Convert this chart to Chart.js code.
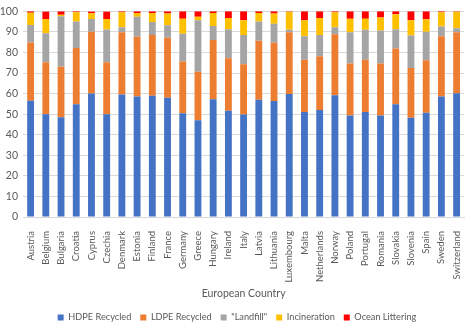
<!DOCTYPE html>
<html>
<head>
<meta charset="utf-8">
<script src="https://cdn.jsdelivr.net/npm/chart.js@4.4.1/dist/chart.umd.min.js"></script>
<style>
  html, body { margin: 0; padding: 0; background: #fff; }
  #wrap { width: 474px; height: 324px; }
</style>
</head>
<body>
<div id="wrap"><canvas id="c" width="474" height="324"></canvas></div>
<script>
const countries = ["Austria","Belgium","Bulgaria","Croatia","Cyprus","Czechia","Denmark","Estonia","Finland","France","Germany","Greece","Hungary","Ireland","Italy","Latvia","Lithuania","Luxembourg","Malta","Netherlands","Norway","Poland","Portugal","Romania","Slovakia","Slovenia","Spain","Sweden","Switzerland"];

const hdpeRecycled = [56.5,50.0,48.5,54.8,60.0,50.0,59.5,58.6,59.0,58.0,50.4,47.0,57.3,51.7,49.8,57.0,56.4,59.8,51.0,52.0,59.2,49.4,51.0,49.4,54.8,48.2,50.7,58.6,60.2];
const ldpeRecycled = [28.3,25.2,24.6,27.4,30.0,25.2,30.3,29.0,29.5,29.2,25.2,23.6,28.7,25.5,24.5,28.7,28.3,30.0,25.5,26.1,29.6,25.2,25.5,25.2,27.1,24.2,25.5,29.3,29.6];
const landfill     = [8.5,14.1,24.5,12.9,6.3,16.0,2.5,9.7,6.3,6.0,13.5,25.1,6.9,14.1,14.2,9.4,9.2,1.2,11.4,10.4,3.5,15.2,14.5,16.1,9.4,15.8,13.9,4.7,1.9];
const incineration = [6.0,7.0,0.7,4.4,2.8,5.1,7.2,1.9,4.4,5.7,7.3,1.6,6.3,5.4,7.2,4.1,5.0,8.8,7.8,8.2,7.2,6.6,5.4,6.3,7.3,7.5,6.0,6.9,8.1];
const oceanLittering = [0.7,3.6,1.7,0.5,0.8,3.6,0.5,0.8,0.8,1.1,3.6,2.7,0.8,3.3,4.3,0.8,1.1,0.2,4.3,3.3,0.5,3.6,3.6,3.0,1.4,4.3,3.9,0.5,0.2];

const seriesNames = ["HDPE Recycled","LDPE Recycled","\"Landfill\"","Incineration","Ocean Littering"];
const seriesColors = ["#4472C4","#ED7D31","#A5A5A5","#FFC000","#FF0000"];
const seriesValues = [hdpeRecycled, ldpeRecycled, landfill, incineration, oceanLittering];

const yTicks = [0,10,20,30,40,50,60,70,80,90,100];

const textColor = "#595959";
const fontFamily = "Lato, 'Open Sans', sans-serif";

// plot area spans from y = 5 to y = 217
const plotBottom = 217;
const bottomPad = -8;

new Chart(document.getElementById("c"), {
  type: "bar",
  data: {
    labels: countries,
    datasets: seriesValues.map((vals, i) => ({
      label: seriesNames[i],
      data: vals,
      backgroundColor: seriesColors[i],
      borderWidth: 0,
      categoryPercentage: 1.0,
      barPercentage: 0.45
    }))
  },
  options: {
    responsive: false,
    animation: false,
    devicePixelRatio: 1,
    layout: { padding: { top: 5, left: 0, right: 0, bottom: bottomPad } },
    plugins: {
      tooltip: { enabled: false },
      legend: {
        position: "bottom",
        labels: {
          boxWidth: 6,
          boxHeight: 6,
          padding: 9,
          color: textColor,
          font: { family: fontFamily, size: 9.2 }
        }
      }
    },
    scales: {
      x: {
        stacked: true,
        grid: { display: false },
        border: { display: true, color: "#D9D9D9" },
        afterFit: (scale) => {
          const legendH = scale.chart.legend ? scale.chart.legend.height : 30;
          scale.height = 324 - bottomPad - legendH - plotBottom;
        },
        ticks: {
          color: textColor,
          font: { family: fontFamily, size: 9.5 },
          minRotation: 90,
          maxRotation: 90,
          autoSkip: false,
          padding: 6
        },
        title: {
          display: true,
          text: "European Country",
          color: textColor,
          font: { family: fontFamily, size: 10.5 },
          padding: { top: 14, bottom: 4 }
        }
      },
      y: {
        stacked: true,
        min: 0,
        max: 100,
        afterBuildTicks: (scale) => { scale.ticks = yTicks.map(v => ({ value: v })); },
        afterFit: (scale) => { scale.width = 23; },
        grid: { color: "#D9D9D9", drawTicks: false },
        border: { display: false },
        ticks: {
          color: textColor,
          font: { family: fontFamily, size: 10.5 },
          padding: 5
        }
      }
    }
  }
});
</script>
</body>
</html>
